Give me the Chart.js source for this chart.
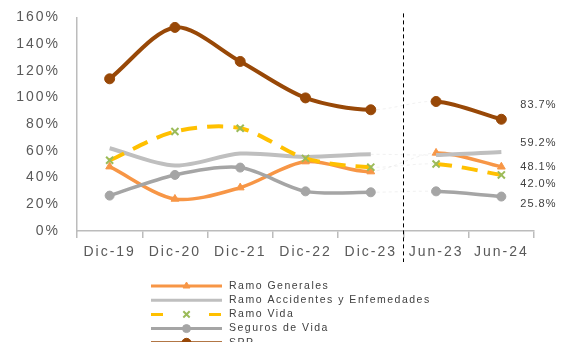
<!DOCTYPE html>
<html>
<head>
<meta charset="utf-8">
<script src="https://cdn.jsdelivr.net/npm/chart.js@4.4.1/dist/chart.umd.min.js"></script>
<style>
html, body { margin: 0; padding: 0; background: #fff; overflow: hidden; }
#chart { display: block; }
</style>
</head>
<body>
<canvas id="chart" width="566" height="342"></canvas>
<script>
// periodos y series (%)
var periodos = ['Dic-19', 'Dic-20', 'Dic-21', 'Dic-22', 'Dic-23', 'Jun-23', 'Jun-24'];
var ramoGenerales = [48.2, 24.0, 32.5, 52.0, 44.5, 58.5, 48.1];
var ramoAccidentes = [62.0, 49.0, 58.0, 55.5, 57.4, 56.9, 59.2];
var ramoVida = [53.0, 74.5, 77.0, 54.4, 47.8, 50.2, 42.0];
var segurosVida = [26.5, 42.0, 47.5, 29.7, 29.0, 29.7, 25.8];
var spp = [114.0, 152.5, 127.0, 99.7, 90.8, 97.0, 83.7];
var ejeY = [0, 20, 40, 60, 80, 100, 120, 140, 160];

var fuente = "'Liberation Sans', Arial, sans-serif";
var gris = '#595959';
var corte = 4; // entre Dic-23 y Jun-23 no se unen los puntos

// tramo Dic-23 -> Jun-23 casi invisible
function tramo(normal, tenue) {
    return function (ctx) { return ctx.p0DataIndex === corte ? tenue : normal; };
}

function serie(label, data, color, extra) {
    var ds = {
        label: label,
        data: data,
        borderColor: color,
        backgroundColor: color,
        pointBackgroundColor: color,
        pointBorderColor: color,
        pointBorderWidth: 1,
        borderWidth: 3.5,
        tension: 0.3,
        segment: {
            borderColor: tramo(undefined, 'rgba(200,200,200,0.25)'),
            borderWidth: tramo(undefined, 1),
            borderDash: tramo(undefined, [3, 3])
        }
    };
    return Object.assign(ds, extra);
}

var datasets = [
    serie('Ramo Generales', ramoGenerales, '#F79646', {
        pointStyle: 'triangle', pointRadius: 4.5, order: 5, desp: 0
    }),
    serie('Ramo Accidentes y Enfemedades', ramoAccidentes, '#BFBFBF', {
        pointRadius: 0, borderWidth: 4, order: 4, desp: -9
    }),
    serie('Ramo Vida', ramoVida, '#FFC000', {
        borderDash: [16, 10], borderWidth: 4, pointStyle: 'crossRot', pointRadius: 5,
        pointBorderColor: '#9BBB59', pointBorderWidth: 2, order: 3, desp: 9
    }),
    serie('Seguros de Vida', segurosVida, '#A5A5A5', {
        pointStyle: 'circle', pointRadius: 4.5, order: 2, desp: 7
    }),
    serie('SPP', spp, '#984807', {
        pointStyle: 'circle', pointRadius: 5, borderWidth: 4, order: 1, desp: -14
    })
];

// espaciado de letras para los textos del canvas
var espaciado = {
    id: 'espaciado',
    beforeLayout: function (chart) { chart.ctx.letterSpacing = '2px'; },
    beforeDraw: function (chart) { chart.ctx.letterSpacing = '2px'; }
};

// línea punteada vertical que separa diciembres de junios
var separador = {
    id: 'separador',
    afterDatasetsDraw: function (chart) {
        var ctx = chart.ctx, x = chart.scales.x, area = chart.chartArea;
        var px = Math.round((x.getPixelForValue(corte) + x.getPixelForValue(corte + 1)) / 2) + 0.5;
        ctx.save();
        ctx.strokeStyle = '#000';
        ctx.lineWidth = 1;
        ctx.setLineDash([4, 3]);
        ctx.beginPath();
        ctx.moveTo(px, area.top - 4);
        ctx.lineTo(px, area.bottom + 31);
        ctx.stroke();
        ctx.restore();
    }
};

// valores de Jun-24 a la derecha
var etiquetas = {
    id: 'etiquetas',
    afterDatasetsDraw: function (chart) {
        var ctx = chart.ctx;
        ctx.save();
        ctx.letterSpacing = '1px';
        ctx.font = '11px ' + fuente;
        ctx.fillStyle = '#404040';
        ctx.textAlign = 'center';
        ctx.textBaseline = 'middle';
        chart.data.datasets.forEach(function (ds, i) {
            var meta = chart.getDatasetMeta(i);
            var n = ds.data.length - 1;
            var p = meta.data[n];
            ctx.fillText(ds.data[n].toFixed(1) + '%', p.x + 37, p.y + ds.desp);
        });
        ctx.restore();
    }
};

// leyenda en lista vertical bajo el eje
var leyenda = {
    id: 'leyenda',
    afterDraw: function (chart) {
        var ctx = chart.ctx;
        var x0 = 151, x1 = 222, xt = 229, y0 = 286, paso = 14.2;
        ctx.save();
        ctx.font = '10.5px ' + fuente;
        ctx.letterSpacing = '1.5px';
        ctx.textBaseline = 'middle';
        chart.data.datasets.forEach(function (ds, i) {
            var y = y0 + i * paso;
            var xm = (x0 + x1) / 2;
            ctx.strokeStyle = ds.borderColor;
            ctx.lineWidth = 3;
            ctx.setLineDash(ds.borderDash ? [12, 46] : []);
            ctx.beginPath();
            ctx.moveTo(x0, y);
            ctx.lineTo(x1, y);
            ctx.stroke();
            ctx.setLineDash([]);
            if (ds.pointRadius > 0) {
                ctx.fillStyle = ds.pointBackgroundColor;
                ctx.strokeStyle = ds.pointBorderColor;
                ctx.lineWidth = ds.pointBorderWidth;
                Chart.helpers.drawPoint(ctx, {
                    pointStyle: ds.pointStyle, radius: ds.pointRadius - 0.5,
                    rotation: 0, borderWidth: ds.pointBorderWidth
                }, xm, y);
            }
            ctx.fillStyle = '#404040';
            ctx.fillText(ds.label, xt, y);
        });
        ctx.restore();
    }
};

new Chart(document.getElementById('chart'), {
    type: 'line',
    data: { labels: periodos, datasets: datasets },
    options: {
        responsive: false,
        animation: false,
        layout: { padding: { top: 10, right: 32, left: 0, bottom: 0 } },
        plugins: { legend: { display: false }, tooltip: { enabled: false } },
        scales: {
            x: {
                offset: true,
                grid: {
                    offset: true, drawOnChartArea: false, drawTicks: true,
                    tickLength: 7, color: '#BCBCBC', lineWidth: 1.5
                },
                border: { color: '#BCBCBC', width: 1.5 },
                ticks: { color: gris, font: { family: fuente, size: 14 }, padding: 6, maxRotation: 0 },
                afterFit: function (s) { s.height = 111; }
            },
            y: {
                min: ejeY[0],
                max: ejeY[ejeY.length - 1],
                afterBuildTicks: function (s) {
                    s.ticks = ejeY.map(function (v) { return { value: v }; });
                },
                grid: { display: false },
                border: { color: '#BCBCBC', width: 1.5 },
                ticks: {
                    color: gris, font: { family: fuente, size: 14 }, padding: 9,
                    callback: function (v) { return v + '%'; }
                },
                afterFit: function (s) { s.width = 77; }
            }
        }
    },
    plugins: [espaciado, separador, etiquetas, leyenda]
});
</script>
</body>
</html>
